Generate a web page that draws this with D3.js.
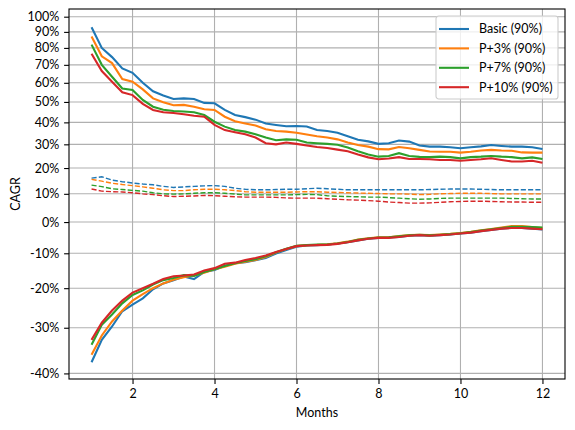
<!DOCTYPE html>
<html>
<head>
<meta charset="utf-8">
<script src="https://cdn.jsdelivr.net/npm/d3@7"></script>
<style>
  body { margin: 0; background: #fff; }
  text { font-family: Lato, "DejaVu Sans", sans-serif; }
</style>
</head>
<body>
<script>
// months on the x axis
var months = [1, 1.25, 1.5, 1.75, 2, 2.25, 2.5, 2.75, 3, 3.25, 3.5, 3.75, 4, 4.25, 4.5, 4.75,
  5, 5.25, 5.5, 5.75, 6, 6.25, 6.5, 6.75, 7, 7.25, 7.5, 7.75, 8, 8.25, 8.5, 8.75,
  9, 9.25, 9.5, 9.75, 10, 10.25, 10.5, 10.75, 11, 11.25, 11.5, 11.75, 12];

var names = ["Basic (90%)", "P+3% (90%)", "P+7% (90%)", "P+10% (90%)"];
var colors = ["#1f77b4", "#ff7f0e", "#2ca02c", "#d62728"];

// upper band (solid, in legend)
var basicHigh = [0.93, 0.80, 0.745, 0.68, 0.655, 0.60, 0.555, 0.533, 0.515, 0.518, 0.515, 0.495, 0.493, 0.46, 0.435, 0.425,
  0.413, 0.395, 0.388, 0.382, 0.383, 0.381, 0.364, 0.36, 0.352, 0.336, 0.32, 0.313, 0.302, 0.305, 0.317, 0.312,
  0.295, 0.29, 0.29, 0.287, 0.283, 0.287, 0.291, 0.297, 0.293, 0.29, 0.29, 0.287, 0.28];
var p3High = [0.87, 0.75, 0.71, 0.62, 0.606, 0.565, 0.518, 0.498, 0.483, 0.485, 0.476, 0.463, 0.46, 0.427, 0.405, 0.395,
  0.385, 0.368, 0.36, 0.357, 0.352, 0.344, 0.336, 0.33, 0.322, 0.308, 0.297, 0.29, 0.279, 0.278, 0.288, 0.283,
  0.276, 0.269, 0.268, 0.268, 0.264, 0.268, 0.273, 0.276, 0.273, 0.272, 0.265, 0.264, 0.264];
var p7High = [0.82, 0.70, 0.633, 0.57, 0.562, 0.51, 0.476, 0.461, 0.455, 0.452, 0.449, 0.435, 0.403, 0.38, 0.364, 0.357,
  0.345, 0.33, 0.318, 0.322, 0.32, 0.308, 0.305, 0.302, 0.298, 0.286, 0.27, 0.256, 0.247, 0.25, 0.262, 0.25,
  0.246, 0.245, 0.247, 0.245, 0.24, 0.245, 0.247, 0.25, 0.247, 0.245, 0.24, 0.244, 0.237];
var p10High = [0.765, 0.665, 0.606, 0.55, 0.535, 0.49, 0.46, 0.449, 0.445, 0.439, 0.432, 0.427, 0.388, 0.364, 0.354, 0.345,
  0.33, 0.305, 0.30, 0.308, 0.302, 0.295, 0.288, 0.284, 0.277, 0.27, 0.256, 0.244, 0.236, 0.239, 0.245, 0.237,
  0.237, 0.236, 0.233, 0.233, 0.23, 0.233, 0.236, 0.24, 0.233, 0.227, 0.227, 0.23, 0.222];

// middle band (dashed)
var basicMid = [0.16, 0.165, 0.152, 0.146, 0.141, 0.137, 0.134, 0.128, 0.124, 0.126, 0.128, 0.13, 0.131, 0.128, 0.121, 0.117,
  0.115, 0.115, 0.116, 0.117, 0.117, 0.119, 0.121, 0.119, 0.117, 0.115, 0.115, 0.115, 0.115, 0.115, 0.115, 0.115,
  0.115, 0.116, 0.117, 0.118, 0.118, 0.118, 0.117, 0.116, 0.115, 0.115, 0.115, 0.115, 0.115];
var p3Mid = [0.155, 0.148, 0.14, 0.135, 0.131, 0.126, 0.121, 0.115, 0.112, 0.112, 0.115, 0.117, 0.117, 0.115, 0.112, 0.108,
  0.106, 0.106, 0.106, 0.106, 0.107, 0.108, 0.108, 0.106, 0.105, 0.104, 0.103, 0.102, 0.101, 0.1, 0.1, 0.099,
  0.097, 0.098, 0.1, 0.101, 0.102, 0.102, 0.102, 0.101, 0.1, 0.1, 0.1, 0.1, 0.1];
var p7Mid = [0.133, 0.127, 0.119, 0.116, 0.113, 0.11, 0.104, 0.1, 0.099, 0.1, 0.102, 0.104, 0.104, 0.102, 0.099, 0.096,
  0.096, 0.096, 0.096, 0.096, 0.097, 0.098, 0.097, 0.093, 0.091, 0.09, 0.089, 0.088, 0.088, 0.086, 0.084, 0.082,
  0.08, 0.081, 0.083, 0.084, 0.084, 0.084, 0.084, 0.084, 0.084, 0.083, 0.082, 0.081, 0.081];
var p10Mid = [0.118, 0.11, 0.108, 0.107, 0.104, 0.1, 0.097, 0.093, 0.09, 0.091, 0.092, 0.094, 0.093, 0.091, 0.089, 0.088,
  0.088, 0.088, 0.087, 0.085, 0.084, 0.084, 0.084, 0.082, 0.08, 0.078, 0.077, 0.075, 0.073, 0.07, 0.068, 0.066,
  0.066, 0.067, 0.069, 0.071, 0.072, 0.073, 0.073, 0.072, 0.071, 0.07, 0.07, 0.069, 0.069];

// lower band (solid)
var basicLow = [-0.377, -0.328, -0.297, -0.26, -0.243, -0.227, -0.203, -0.187, -0.178, -0.168, -0.175, -0.155, -0.149, -0.137, -0.13, -0.127,
  -0.121, -0.114, -0.101, -0.09, -0.08, -0.076, -0.075, -0.073, -0.07, -0.066, -0.06, -0.055, -0.052, -0.051, -0.049, -0.045,
  -0.043, -0.045, -0.043, -0.041, -0.038, -0.035, -0.03, -0.026, -0.022, -0.019, -0.02, -0.022, -0.025];
var p3Low = [-0.361, -0.318, -0.285, -0.258, -0.233, -0.216, -0.2, -0.187, -0.177, -0.17, -0.165, -0.157, -0.147, -0.14, -0.131, -0.125,
  -0.12, -0.111, -0.098, -0.087, -0.078, -0.075, -0.074, -0.072, -0.069, -0.064, -0.057, -0.053, -0.05, -0.05, -0.046, -0.043,
  -0.042, -0.043, -0.041, -0.039, -0.036, -0.032, -0.027, -0.023, -0.018, -0.013, -0.013, -0.017, -0.02];
var p7Low = [-0.339, -0.293, -0.268, -0.24, -0.218, -0.206, -0.19, -0.178, -0.172, -0.164, -0.166, -0.155, -0.147, -0.138, -0.13, -0.123,
  -0.118, -0.109, -0.097, -0.086, -0.077, -0.075, -0.073, -0.073, -0.07, -0.065, -0.058, -0.054, -0.051, -0.05, -0.047, -0.044,
  -0.042, -0.044, -0.042, -0.04, -0.037, -0.033, -0.028, -0.024, -0.02, -0.016, -0.016, -0.017, -0.018];
var p10Low = [-0.328, -0.288, -0.258, -0.233, -0.212, -0.2, -0.188, -0.175, -0.167, -0.165, -0.162, -0.151, -0.144, -0.131, -0.128, -0.12,
  -0.114, -0.107, -0.096, -0.087, -0.078, -0.076, -0.075, -0.074, -0.071, -0.066, -0.06, -0.055, -0.052, -0.052, -0.049, -0.045,
  -0.043, -0.045, -0.043, -0.041, -0.038, -0.035, -0.03, -0.026, -0.022, -0.02, -0.02, -0.022, -0.024];

var xTicks = [2, 4, 6, 8, 10, 12];
var yTicks = [-0.4, -0.3, -0.2, -0.1, 0, 0.1, 0.2, 0.3, 0.4, 0.5, 0.6, 0.7, 0.8, 0.9, 1.0];

var highs = [basicHigh, p3High, p7High, p10High];
var mids = [basicMid, p3Mid, p7Mid, p10Mid];
var lows = [basicLow, p3Low, p7Low, p10Low];

var svgWidth = 575;
var svgHeight = 430;
var margin = { top: 9, right: 10, bottom: 51, left: 69 };
var width = svgWidth - margin.left - margin.right;
var height = svgHeight - margin.top - margin.bottom;

var svg = d3.select("body")
  .append("svg")
  .attr("width", svgWidth)
  .attr("height", svgHeight);

var chartGroup = svg.append("g")
  .attr("transform", `translate(${margin.left}, ${margin.top})`);

var xScale = d3.scaleLinear().domain([0.45, 12.55]).range([0, width]);
// CAGR plotted on log(1 + r)
var yScale = d3.scaleLog().domain([0.5888, 2.0526]).range([height, 0]);
var yPos = function(v) { return yScale(1 + v); };

// grid
chartGroup.append("g")
  .selectAll("line.gx")
  .data(xTicks)
  .enter()
  .append("line")
  .attr("x1", d => xScale(d)).attr("x2", d => xScale(d))
  .attr("y1", 0).attr("y2", height)
  .attr("stroke", "#b0b0b0").attr("stroke-width", 1.1);

chartGroup.append("g")
  .selectAll("line.gy")
  .data(yTicks)
  .enter()
  .append("line")
  .attr("x1", 0).attr("x2", width)
  .attr("y1", d => yPos(d)).attr("y2", d => yPos(d))
  .attr("stroke", "#b0b0b0").attr("stroke-width", 1.1);

var line = d3.line()
  .x((d, i) => xScale(months[i]))
  .y(d => yPos(d));

for (var k = 0; k < names.length; k++) {
  chartGroup.append("path")
    .attr("d", line(highs[k]))
    .attr("fill", "none").attr("stroke", colors[k]).attr("stroke-width", 2.1);
  chartGroup.append("path")
    .attr("d", line(mids[k]))
    .attr("fill", "none").attr("stroke", colors[k]).attr("stroke-width", 1.4)
    .attr("stroke-dasharray", "5.1,2.2");
  chartGroup.append("path")
    .attr("d", line(lows[k]))
    .attr("fill", "none").attr("stroke", colors[k]).attr("stroke-width", 2.1);
}

// axes
var bottomAxis = d3.axisBottom(xScale).tickValues(xTicks).tickSize(4.9).tickPadding(4.9)
  .tickFormat(d3.format("d"));
var leftAxis = d3.axisLeft(yScale).tickValues(yTicks.map(v => 1 + v)).tickSize(4.9).tickPadding(4.9)
  .tickFormat(d => Math.round((d - 1) * 100) + "%");

var xAxis = chartGroup.append("g")
  .attr("transform", `translate(0, ${height})`)
  .call(bottomAxis);
var yAxis = chartGroup.append("g").call(leftAxis);

[xAxis, yAxis].forEach(function(ax) {
  ax.select(".domain").remove();
  ax.selectAll(".tick line").attr("stroke", "#000").attr("stroke-width", 1.1);
  ax.selectAll(".tick text").attr("fill", "#000").style("font-size", "12.5px");
});

chartGroup.append("rect")
  .attr("width", width).attr("height", height)
  .attr("fill", "none").attr("stroke", "#000").attr("stroke-width", 1.1);

svg.append("text")
  .attr("x", margin.left + width / 2).attr("y", 417)
  .attr("text-anchor", "middle").style("font-size", "12.5px")
  .text("Months");

svg.append("text")
  .attr("transform", `translate(20, ${margin.top + height / 2}) rotate(-90)`)
  .attr("text-anchor", "middle").style("font-size", "12.5px")
  .text("CAGR");

// legend
var legend = svg.append("g").attr("transform", "translate(436, 16)");
legend.append("rect")
  .attr("width", 122).attr("height", 83).attr("rx", 2.8)
  .attr("fill", "#fff").attr("fill-opacity", 0.8)
  .attr("stroke", "#cccccc").attr("stroke-width", 1.1);

var rows = legend.selectAll("g.row")
  .data(names)
  .enter()
  .append("g")
  .attr("transform", (d, i) => `translate(0, ${13 + i * 19.4})`);
rows.append("line")
  .attr("x1", 3).attr("x2", 33)
  .attr("stroke", (d, i) => colors[i]).attr("stroke-width", 2.1);
rows.append("text")
  .attr("x", 43).attr("dy", "0.35em")
  .style("font-size", "12.5px")
  .text(d => d);
</script>
</body>
</html>
